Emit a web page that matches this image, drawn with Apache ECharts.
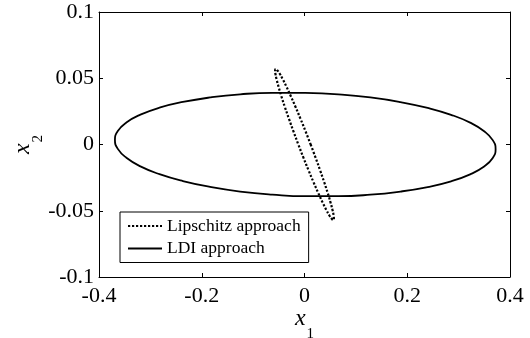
<!DOCTYPE html>
<html>
<head>
<meta charset="utf-8">
<script src="https://cdn.jsdelivr.net/npm/echarts@6/dist/echarts.min.js"></script>
<style>
  html, body { margin: 0; padding: 0; background: #fff; }
  #main { width: 530px; height: 338px; }
</style>
</head>
<body>
<div id="main"></div>
<script>
// 刻度
var xTicks = [-0.4, -0.2, 0, 0.2, 0.4];
var yTicks = [-0.1, -0.05, 0, 0.05, 0.1];

// LDI approach 椭圆 (从图上读出的轮廓点)
var ldiX = [0.0015, -0.0628, -0.1252, -0.1838, -0.2367, -0.2823, -0.3194, -0.3467, -0.3634, -0.369,
  -0.3634, -0.3467, -0.3194, -0.2823, -0.2367, -0.1838, -0.1252, -0.0628, 0.0015, 0.0658,
  0.1282, 0.1868, 0.2397, 0.2853, 0.3224, 0.3497, 0.3664, 0.372, 0.3664, 0.3497,
  0.3224, 0.2853, 0.2397, 0.1868, 0.1282, 0.0658, 0.0015];
var ldiY = [0.039, 0.039, 0.0379, 0.0355, 0.0321, 0.0278, 0.0225, 0.0166, 0.0102, 0.0035,
  -0.0033, -0.01, -0.0165, -0.0224, -0.0276, -0.032, -0.0355, -0.0378, -0.039, -0.039,
  -0.0379, -0.0355, -0.0321, -0.0278, -0.0225, -0.0166, -0.0102, -0.0035, 0.0033, 0.01,
  0.0165, 0.0224, 0.0276, 0.032, 0.0355, 0.0378, 0.039];

// Lipschitz approach 椭圆
var lipX = [0.012, 0.0215, 0.0304, 0.0384, 0.0452, 0.0506, 0.0545, 0.0567, 0.0572, 0.056,
  0.0531, 0.0485, 0.0425, 0.0352, 0.0268, 0.0176, 0.0079, -0.0021, -0.012, -0.0215,
  -0.0304, -0.0384, -0.0452, -0.0506, -0.0545, -0.0567, -0.0572, -0.056, -0.0531, -0.0485,
  -0.0425, -0.0352, -0.0268, -0.0176, -0.0079, 0.0021, 0.012];
var lipY = [0, -0.0099, -0.0195, -0.0285, -0.0366, -0.0437, -0.0494, -0.0536, -0.0561, -0.057,
  -0.0561, -0.0536, -0.0494, -0.0437, -0.0366, -0.0285, -0.0195, -0.0099, 0, 0.0099,
  0.0195, 0.0285, 0.0366, 0.0437, 0.0494, 0.0536, 0.0561, 0.057, 0.0561, 0.0536,
  0.0494, 0.0437, 0.0366, 0.0285, 0.0195, 0.0099, 0];

function zip(xs, ys) {
  return xs.map(function (x, i) { return [x, ys[i]]; });
}

var serif = '"Liberation Serif", "DejaVu Serif", serif';
var axisLine = { show: true, onZero: false, lineStyle: { color: '#000', width: 1 } };
var tick = { show: true, inside: true, length: 4, lineStyle: { color: '#000' } };
var label = { color: '#000', fontFamily: serif, fontSize: 22 };
var nameRich = {
  i: { fontFamily: serif, fontStyle: 'italic', fontSize: 24, color: '#000', lineHeight: 26, verticalAlign: 'top' },
  s: { fontFamily: serif, fontSize: 15, color: '#000', lineHeight: 15, verticalAlign: 'top', padding: [20, 0, 0, 1] }
};

var myChart = echarts.init(document.getElementById('main'));
myChart.setOption({
  animation: false,
  backgroundColor: '#fff',
  grid: { left: 99, right: 20, top: 12, bottom: 61, outerBoundsMode: 'none', containLabel: false },
  legend: {
    left: 120,
    top: 212,
    orient: 'vertical',
    backgroundColor: '#fff',
    borderColor: '#000',
    borderWidth: 1,
    borderRadius: 0,
    padding: [5, 8, 5, 7],
    itemGap: 4.5,
    itemWidth: 34,
    itemHeight: 14,
    itemStyle: { opacity: 0 },
    textStyle: { fontFamily: serif, fontSize: 17.5, color: '#000' },
    data: ['Lipschitz approach', 'LDI approach']
  },
  xAxis: [
    {
      type: 'value',
      min: xTicks[0], max: xTicks[xTicks.length - 1], interval: 0.2,
      position: 'bottom',
      axisLine: axisLine, axisTick: tick, splitLine: { show: false },
      axisLabel: Object.assign({ margin: 8 }, label),
      name: '{i|x}{s|1}',
      nameLocation: 'middle',
      nameGap: 30,
      nameMoveOverlap: false,
      nameTextStyle: { rich: nameRich }
    },
    {
      type: 'value',
      min: xTicks[0], max: xTicks[xTicks.length - 1], interval: 0.2,
      position: 'top',
      axisLine: axisLine, axisTick: tick, splitLine: { show: false },
      axisLabel: { show: false }
    }
  ],
  yAxis: [
    {
      type: 'value',
      min: yTicks[0], max: yTicks[yTicks.length - 1], interval: 0.05,
      position: 'left',
      axisLine: axisLine, axisTick: tick, splitLine: { show: false },
      axisLabel: Object.assign({ margin: 5 }, label),
      name: '{i|x}{s|2}',
      nameLocation: 'middle',
      nameGap: 62,
      nameMoveOverlap: false,
      nameTextStyle: { rich: nameRich }
    },
    {
      type: 'value',
      min: yTicks[0], max: yTicks[yTicks.length - 1], interval: 0.05,
      position: 'right',
      axisLine: axisLine, axisTick: tick, splitLine: { show: false },
      axisLabel: { show: false }
    }
  ],
  series: [
    {
      name: 'Lipschitz approach',
      type: 'line',
      data: zip(lipX, lipY),
      smooth: true,
      symbol: 'none',
      lineStyle: { color: '#000', width: 2.2, type: [2.2, 1.8] },
      itemStyle: { color: '#000' },
      z: 3
    },
    {
      name: 'LDI approach',
      type: 'line',
      data: zip(ldiX, ldiY),
      smooth: true,
      symbol: 'none',
      lineStyle: { color: '#000', width: 1.8, type: 'solid' },
      itemStyle: { color: '#000' },
      z: 2
    }
  ]
});
</script>
</body>
</html>
